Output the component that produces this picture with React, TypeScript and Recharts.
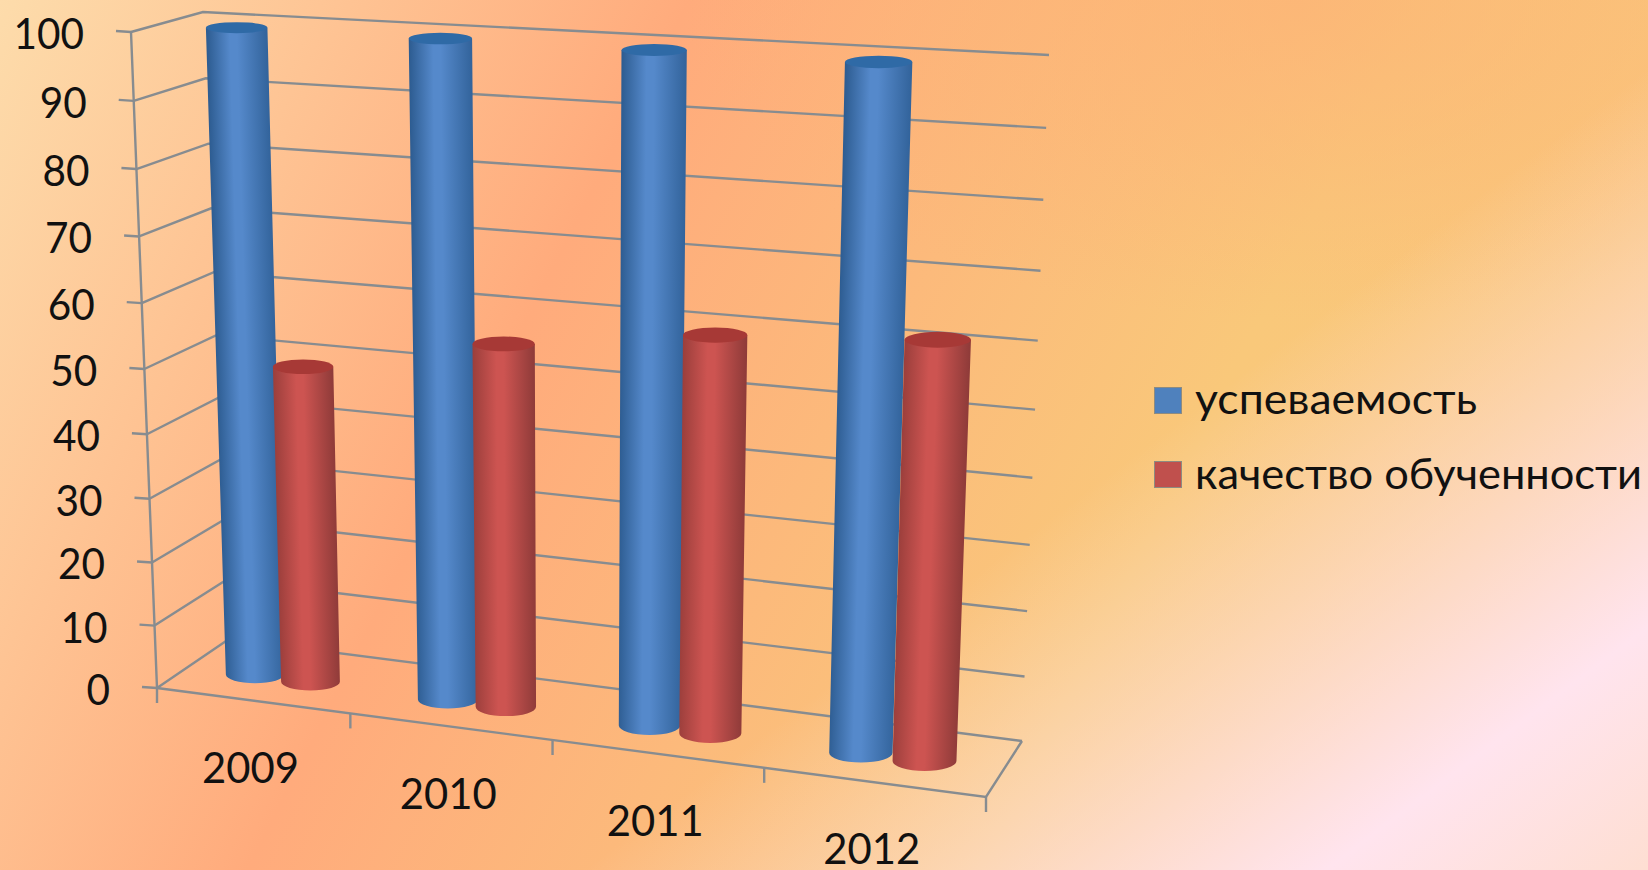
import { Bar, BarChart, CartesianGrid, Legend, XAxis, YAxis } from "recharts";

const years = ["2009", "2010", "2011", "2012"];
const performance = [100, 100, 100, 100];
const quality = [49.8, 56, 60, 62];
const yTicks = [0, 10, 20, 30, 40, 50, 60, 70, 80, 90, 100];

const seriesNames = { performance: "успеваемость", quality: "качество обученности" };

const data = years.map((year, i) => ({
  year,
  performance: performance[i],
  quality: quality[i],
}));

const WIDTH = 1648;
const HEIGHT = 870;
const PLOT = { left: 100, top: 40, width: 1054, height: 730 };
const FONT = "Lato, Carlito, 'Open Sans', sans-serif";
const GRID_COLOR = "#878c90";

type Pt = [number, number];

// corners are top-left, top-right, bottom-right, bottom-left of a wall in the picture
function makeProjection([p0, p1, p2, p3]: Pt[]) {
  const dx1 = p1[0] - p2[0];
  const dx2 = p3[0] - p2[0];
  const sx = p0[0] - p1[0] + p2[0] - p3[0];
  const dy1 = p1[1] - p2[1];
  const dy2 = p3[1] - p2[1];
  const sy = p0[1] - p1[1] + p2[1] - p3[1];
  const det = dx1 * dy2 - dx2 * dy1;
  const g = (sx * dy2 - dx2 * sy) / det;
  const h = (dx1 * sy - sx * dy1) / det;
  const a = p1[0] - p0[0] + g * p1[0];
  const b = p3[0] - p0[0] + h * p3[0];
  const d = p1[1] - p0[1] + g * p1[1];
  const e = p3[1] - p0[1] + h * p3[1];

  return (u: number, v: number): Pt => {
    const w = g * u + h * v + 1;
    return [(a * u + b * v + p0[0]) / w, (d * u + e * v + p0[1]) / w];
  };
}

const frontPlane = makeProjection([[131, 32], [1009, 81], [986, 797], [157, 688]]);
const barPlane = makeProjection([[167, 24], [1030, 70], [1003, 771], [189, 666]]);
const backPlane = makeProjection([[203, 12], [1049, 55], [1022, 741], [229, 639]]);

const toU = (x: number) => (x - PLOT.left) / PLOT.width;
const toV = (y: number) => (y - PLOT.top) / PLOT.height;
const line = (points: Pt[]) => points.map((p, i) => `${i ? "L" : "M"}${p[0]},${p[1]}`).join("");

function WallLine({ y1 }: { y1: number }) {
  const v = toV(y1);
  const isFloor = Math.abs(v - 1) < 0.001;
  const segments = [line([frontPlane(0, v), backPlane(0, v), backPlane(1, v)])];

  if (isFloor) {
    segments.push(line([frontPlane(0, 1), frontPlane(1, 1), backPlane(1, 1)]));
    segments.push(line([frontPlane(0, 0), frontPlane(0, 1)]));
  }

  return <path d={segments.join("")} fill="none" stroke={GRID_COLOR} strokeWidth={2.4} />;
}

function ValueTick({ y, payload }: any) {
  const [ax, ay] = frontPlane(0, toV(y));
  const label = String(payload.value);

  return (
    <g>
      <path d={line([[ax - 15, ay - 1], [ax, ay]])} stroke={GRID_COLOR} strokeWidth={2.4} />
      <text
        x={ax - 47}
        y={ay + 1}
        textAnchor="end"
        dominantBaseline="central"
        fontFamily={FONT}
        fontSize={42}
        fill="#111"
        textLength={label.length * 23.5}
        lengthAdjust="spacingAndGlyphs"
      >
        {label}
      </text>
    </g>
  );
}

function YearTick({ x, index, payload }: any) {
  const band = PLOT.width / years.length;
  const u = toU(x);
  const [cx, cy] = frontPlane(u, 1);
  const marks = [toU(x + band / 2)];

  if (index === 0) {
    marks.push(toU(x - band / 2));
  }

  return (
    <g>
      {marks.map((m) => {
        const [mx, my] = frontPlane(m, 1);
        return (
          <path key={m} d={line([[mx, my], [mx, my + 15]])} stroke={GRID_COLOR} strokeWidth={2.4} />
        );
      })}
      <text
        x={cx - 2}
        y={cy + 66}
        textAnchor="middle"
        dominantBaseline="central"
        fontFamily={FONT}
        fontSize={42}
        fill="#111"
        textLength={97}
        lengthAdjust="spacingAndGlyphs"
      >
        {payload.value}
      </text>
    </g>
  );
}

const shades: Record<string, { edge: string; mid: string; far: string; cap: string }> = {
  performance: { edge: "#33649c", mid: "#5589cb", far: "#2e5d92", cap: "#2f6aa6" },
  quality: { edge: "#8f3b39", mid: "#cd5451", far: "#9c3f3c", cap: "#a73936" },
};

function Cylinder({ x, y, width, height, index, dataKey }: any) {
  const tl = barPlane(toU(x), toV(y));
  const tr = barPlane(toU(x + width), toV(y));
  const bl = barPlane(toU(x), toV(y + height));
  const br = barPlane(toU(x + width), toV(y + height));
  const top = barPlane(toU(x + width / 2), toV(y));
  const bottom = barPlane(toU(x + width / 2), toV(y + height));
  const shade = shades[dataKey];
  const id = `cyl-${dataKey}-${index}`;

  // the end ellipses stay level even though the row of bars slopes;
  // the cylinders also widen less to the right than the floor does
  const damp = 1 - 0.07 * toU(x + width / 2);
  const rTop = ((tr[0] - tl[0]) / 2) * damp;
  const rBottom = ((br[0] - bl[0]) / 2) * damp;
  const squash = (py: number) => 0.18 + (0.13 * (py - 30)) / 700;
  const ryTop = rTop * squash(top[1]);
  const ryBottom = rBottom * squash(bottom[1]);

  // shading runs across the cylinder, square to its leaning axis
  const cx = (top[0] + bottom[0]) / 2;
  const cy = (top[1] + bottom[1]) / 2;
  const ax = top[0] - bottom[0];
  const ay = top[1] - bottom[1];
  const len = Math.hypot(ax, ay);
  const half = (rTop + rBottom) / 2;
  const nx = -ay / len;
  const ny = ax / len;

  const body = [
    `M${top[0] - rTop},${top[1]}`,
    `L${bottom[0] - rBottom},${bottom[1]}`,
    `A${rBottom},${ryBottom} 0 0 0 ${bottom[0] + rBottom},${bottom[1]}`,
    `L${top[0] + rTop},${top[1]}`,
    "Z",
  ].join("");

  return (
    <g>
      <defs>
        <linearGradient
          id={id}
          gradientUnits="userSpaceOnUse"
          x1={cx + nx * half}
          y1={cy + ny * half}
          x2={cx - nx * half}
          y2={cy - ny * half}
        >
          <stop offset="0" stopColor={shade.edge} />
          <stop offset="0.5" stopColor={shade.mid} />
          <stop offset="0.62" stopColor={shade.mid} />
          <stop offset="1" stopColor={shade.far} />
        </linearGradient>
      </defs>
      <path d={body} fill={`url(#${id})`} />
      <ellipse cx={top[0]} cy={top[1]} rx={rTop} ry={ryTop} fill={shade.cap} />
    </g>
  );
}

function LegendRows() {
  const rows = [
    { name: seriesNames.performance, color: "#4f81bd", length: 282 },
    { name: seriesNames.quality, color: "#c0504d", length: 447 },
  ];

  return (
    <svg width={494} height={160} style={{ display: "block" }}>
      {rows.map((row, i) => (
        <g key={row.name} transform={`translate(0 ${20 + i * 74})`}>
          <rect x={0.5} y={3.5} width={27} height={26} fill={row.color} stroke="#8d8b80" />
          <text
            x={41}
            y={30 + i}
            fontFamily={FONT}
            fontSize={42}
            fill="#111"
            textLength={row.length}
            lengthAdjust="spacingAndGlyphs"
          >
            {row.name}
          </text>
        </g>
      ))}
    </svg>
  );
}

export default function App() {
  return (
    <div
      style={{
        position: "fixed",
        inset: 0,
        overflow: "hidden",
        background: [
          "linear-gradient(143deg, rgba(255,228,236,0) 62%, rgba(255,228,232,0.5) 75%, rgba(255,228,238,1) 88.5%, rgba(254,222,210,1) 100%)",
          "radial-gradient(ellipse 620px 320px at 1300px 0px, rgba(253,178,118,0.7), rgba(253,178,118,0))",
          "linear-gradient(117deg, #fddcab 0%, #ffab7c 33%, #f9c87a 68%, #fbc47e 100%)",
        ].join(","),
      }}
    >
      <BarChart
        width={WIDTH}
        height={HEIGHT}
        data={data}
        barSize={82}
        barGap={-5}
        margin={{ top: 40, left: 40, right: 0, bottom: 40 }}
      >
        <CartesianGrid vertical={false} horizontal={(p: any) => <WallLine key={p.key ?? p.y1} y1={p.y1} />} />
        <XAxis
          dataKey="year"
          height={60}
          axisLine={false}
          tickLine={false}
          interval={0}
          tick={(p: any) => <YearTick {...p} />}
        />
        <YAxis
          width={60}
          domain={[0, 100]}
          ticks={yTicks}
          axisLine={false}
          tickLine={false}
          interval={0}
          tick={(p: any) => <ValueTick {...p} />}
        />
        <Legend
          layout="vertical"
          align="right"
          verticalAlign="top"
          wrapperStyle={{ left: 1154, right: "auto", top: 364, width: 494 }}
          content={() => <LegendRows />}
        />
        <Bar
          dataKey="performance"
          name={seriesNames.performance}
          isAnimationActive={false}
          shape={(p: any) => <Cylinder {...p} dataKey="performance" />}
        />
        <Bar
          dataKey="quality"
          name={seriesNames.quality}
          isAnimationActive={false}
          shape={(p: any) => <Cylinder {...p} dataKey="quality" />}
        />
      </BarChart>
    </div>
  );
}
